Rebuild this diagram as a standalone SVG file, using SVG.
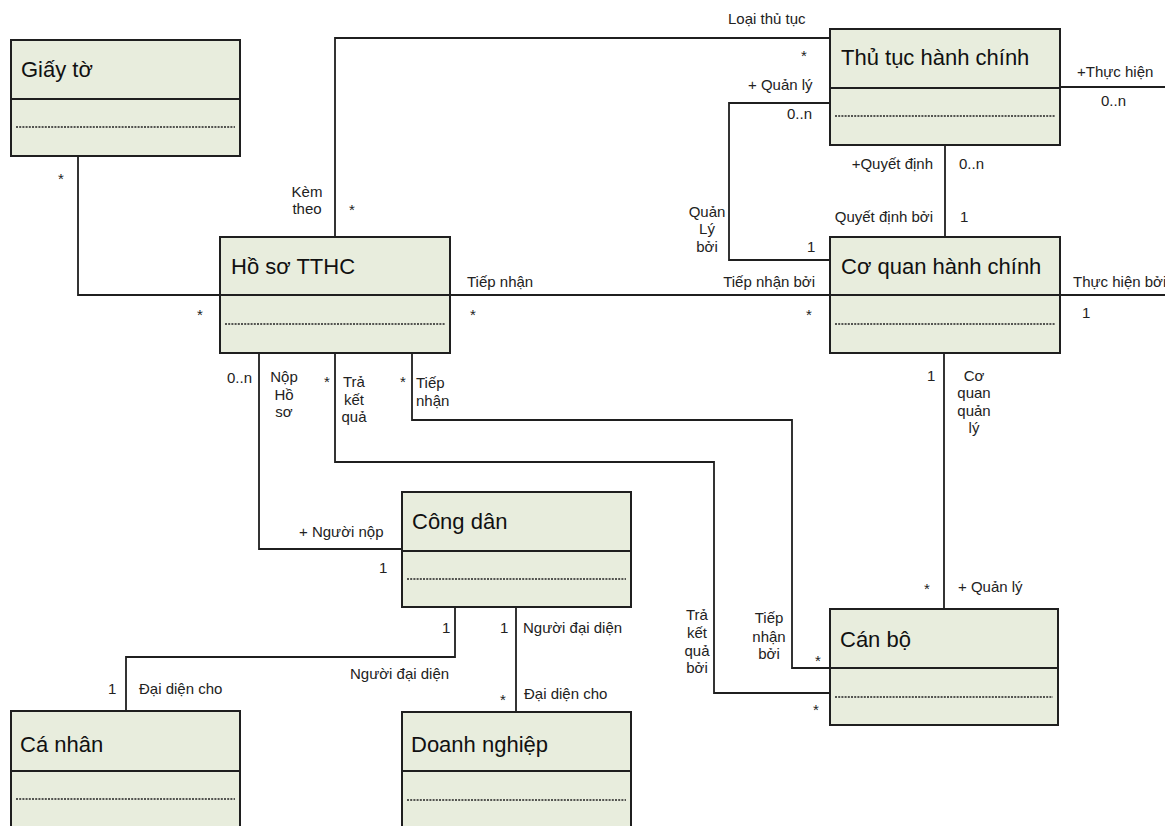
<svg xmlns="http://www.w3.org/2000/svg" width="1165" height="826" viewBox="0 0 1165 826">
<style>
.box{fill:#e8eddd;stroke:#1f1f1f;stroke-width:2}
.div{stroke:#1f1f1f;stroke-width:2}
.dash{stroke:#222;stroke-width:1.3;stroke-dasharray:2 1.2}
.title{font-family:"Liberation Sans",Arial,sans-serif;font-size:22px;fill:#111}
.lbl{font-family:"Liberation Sans",Arial,sans-serif;font-size:15px;fill:#222}
.c{text-anchor:middle}
.e{text-anchor:end}
.conn{fill:none;stroke:#1f1f1f;stroke-width:1.8}
</style>
<rect width="1165" height="826" fill="#fff"/>
<g id="connectors">
<polyline class="conn" points="78,156 78,295 220,295"/>
<polyline class="conn" points="335,237 335,38 830,38"/>
<polyline class="conn" points="830,103 729,103 729,260 830,260"/>
<line class="conn" x1="945" y1="145" x2="945" y2="237"/>
<line class="conn" x1="1060" y1="87" x2="1165" y2="87"/>
<line class="conn" x1="450" y1="295" x2="830" y2="295"/>
<line class="conn" x1="1060" y1="295" x2="1165" y2="295"/>
<line class="conn" x1="944" y1="353" x2="944" y2="609"/>
<polyline class="conn" points="259,353 259,549 402,549"/>
<polyline class="conn" points="335,353 335,462 714,462 714,693 830,693"/>
<polyline class="conn" points="412,353 412,420 792,420 792,668 830,668"/>
<polyline class="conn" points="455,607 455,657 126,657 126,711"/>
<line class="conn" x1="516" y1="607" x2="516" y2="712"/>
<g class="lbl">
<text x="61" y="184" class="c">*</text>
<text x="307" y="197" class="c">Kèm</text>
<text x="307" y="214" class="c">theo</text>
<text x="352" y="215" class="c">*</text>
<text x="200" y="320" class="c">*</text>
<text x="728" y="24">Loại thủ tục</text>
<text x="804" y="61" class="c">*</text>
<text x="748" y="90">+ Quản lý</text>
<text x="787" y="119">0..n</text>
<text x="707" y="217" class="c">Quản</text>
<text x="707" y="234" class="c">Lý</text>
<text x="707" y="252" class="c">bởi</text>
<text x="807" y="252">1</text>
<text x="933" y="169" class="e">+Quyết định</text>
<text x="959" y="169">0..n</text>
<text x="933" y="222" class="e">Quyết định bởi</text>
<text x="960" y="222">1</text>
<text x="1077" y="77">+Thực hiện</text>
<text x="1101" y="106">0..n</text>
<text x="467" y="287">Tiếp nhận</text>
<text x="473" y="320" class="c">*</text>
<text x="815" y="287" class="e">Tiếp nhận bởi</text>
<text x="809" y="320" class="c">*</text>
<text x="1073" y="287">Thực hiện bởi</text>
<text x="1082" y="318">1</text>
<text x="227" y="383">0..n</text>
<text x="284" y="382" class="c">Nộp</text>
<text x="284" y="400" class="c">Hồ</text>
<text x="284" y="417" class="c">sơ</text>
<text x="327" y="387" class="c">*</text>
<text x="354" y="387" class="c">Trả</text>
<text x="354" y="405" class="c">kết</text>
<text x="354" y="422" class="c">quả</text>
<text x="403" y="387" class="c">*</text>
<text x="416" y="388">Tiếp</text>
<text x="416" y="406">nhận</text>
<text x="299" y="537">+ Người nộp</text>
<text x="379" y="573">1</text>
<text x="927" y="381">1</text>
<text x="974" y="381" class="c">Cơ</text>
<text x="974" y="398" class="c">quan</text>
<text x="974" y="416" class="c">quản</text>
<text x="974" y="433" class="c">lý</text>
<text x="927" y="594" class="c">*</text>
<text x="958" y="592">+ Quản lý</text>
<text x="697" y="620" class="c">Trả</text>
<text x="697" y="638" class="c">kết</text>
<text x="697" y="656" class="c">quả</text>
<text x="697" y="673" class="c">bởi</text>
<text x="769" y="623" class="c">Tiếp</text>
<text x="769" y="642" class="c">nhận</text>
<text x="769" y="659" class="c">bởi</text>
<text x="818" y="666" class="c">*</text>
<text x="816" y="715" class="c">*</text>
<text x="442" y="633">1</text>
<text x="500" y="633">1</text>
<text x="523" y="633">Người đại diện</text>
<text x="350" y="679">Người đại diện</text>
<text x="108" y="694">1</text>
<text x="139" y="694">Đại diện cho</text>
<text x="503" y="705" class="c">*</text>
<text x="524" y="699">Đại diện cho</text>
</g>
</g>
<g id="giay-to">
<rect class="box" x="11" y="40" width="229" height="116"/>
<line class="div" x1="11" y1="99" x2="240" y2="99"/>
<line class="dash" x1="16" y1="127" x2="235" y2="127"/>
<text class="title" x="21" y="77">Giấy tờ</text>
</g>
<g id="ho-so-tthc">
<rect class="box" x="220" y="237" width="230" height="116"/>
<line class="div" x1="220" y1="295" x2="450" y2="295"/>
<line class="dash" x1="225" y1="324" x2="445" y2="324"/>
<text class="title" x="231" y="274">Hồ sơ TTHC</text>
</g>
<g id="thu-tuc-hanh-chinh">
<rect class="box" x="830" y="29" width="230" height="116"/>
<line class="div" x1="830" y1="88" x2="1060" y2="88"/>
<line class="dash" x1="835" y1="116" x2="1055" y2="116"/>
<text class="title" x="841" y="65">Thủ tục hành chính</text>
</g>
<g id="co-quan-hanh-chinh">
<rect class="box" x="830" y="237" width="230" height="116"/>
<line class="div" x1="830" y1="295" x2="1060" y2="295"/>
<line class="dash" x1="835" y1="324" x2="1055" y2="324"/>
<text class="title" x="841" y="274">Cơ quan hành chính</text>
</g>
<g id="cong-dan">
<rect class="box" x="402" y="492" width="229" height="115"/>
<line class="div" x1="402" y1="551" x2="631" y2="551"/>
<line class="dash" x1="407" y1="579" x2="626" y2="579"/>
<text class="title" x="412" y="529">Công dân</text>
</g>
<g id="can-bo">
<rect class="box" x="830" y="609" width="228" height="116"/>
<line class="div" x1="830" y1="668" x2="1058" y2="668"/>
<line class="dash" x1="835" y1="697" x2="1053" y2="697"/>
<text class="title" x="840" y="647">Cán bộ</text>
</g>
<g id="ca-nhan">
<rect class="box" x="11" y="711" width="229" height="130"/>
<line class="div" x1="11" y1="771" x2="240" y2="771"/>
<line class="dash" x1="16" y1="799" x2="235" y2="799"/>
<text class="title" x="20" y="752">Cá nhân</text>
</g>
<g id="doanh-nghiep">
<rect class="box" x="402" y="712" width="229" height="130"/>
<line class="div" x1="402" y1="771" x2="631" y2="771"/>
<line class="dash" x1="407" y1="800" x2="626" y2="800"/>
<text class="title" x="411" y="752">Doanh nghiệp</text>
</g>
</svg>
